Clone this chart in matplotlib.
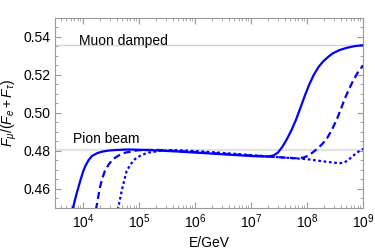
import numpy as np
import matplotlib.pyplot as plt

plt.rcParams['font.family'] = ['Liberation Sans', 'DejaVu Sans']
plt.rcParams['mathtext.fontset'] = 'custom'
plt.rcParams['mathtext.rm'] = 'Liberation Sans'
plt.rcParams['mathtext.it'] = 'Liberation Sans:italic'

# reference levels
muon_damped = 0.5357
pion_beam = 0.4807

# log10(E/GeV) and flavour ratio
lg_solid = np.array([3.82, 3.88, 3.95, 4.00, 4.04, 4.10, 4.16, 4.25, 4.33, 4.45, 4.57, 4.80,
                     5.20, 5.70, 6.21, 6.70, 7.10, 7.30, 7.40, 7.48, 7.56, 7.64, 7.72,
                     7.80, 7.88, 7.96, 8.04, 8.12, 8.20, 8.29, 8.38, 8.46, 8.58, 8.71,
                     8.85, 9.00])
f_solid = np.array([0.4500, 0.4570, 0.4642, 0.4690, 0.4720, 0.4752, 0.4774, 0.4788, 0.4796,
                    0.4802, 0.4805, 0.4808, 0.4805, 0.4797, 0.4788, 0.4779, 0.4772, 0.4771,
                    0.4776, 0.4792, 0.4822, 0.4862, 0.4908, 0.4962, 0.5025, 0.5090, 0.5150,
                    0.5200, 0.5240, 0.5272, 0.5296, 0.5314, 0.5331, 0.5343, 0.5352, 0.5357])

lg_dashed = np.array([4.23, 4.27, 4.30, 4.35, 4.39, 4.46, 4.54, 4.64, 4.75, 4.98, 5.30,
                      5.80, 6.30, 6.80, 7.20, 7.50, 7.80, 7.93, 8.02, 8.10, 8.18, 8.27,
                      8.36, 8.45, 8.54, 8.61, 8.68, 8.75, 8.82, 8.90, 9.00])
f_dashed = np.array([0.4490, 0.4555, 0.4607, 0.4660, 0.4695, 0.4730, 0.4758, 0.4777, 0.4791,
                     0.4804, 0.4806, 0.4798, 0.4789, 0.4780, 0.4773, 0.4767, 0.4762, 0.4765,
                     0.4775, 0.4792, 0.4811, 0.4836, 0.4868, 0.4915, 0.4972, 0.5025, 0.5079,
                     0.5125, 0.5168, 0.5210, 0.5250])

lg_dotted = np.array([4.62, 4.66, 4.69, 4.74, 4.78, 4.85, 4.93, 5.04, 5.16, 5.40, 5.60,
                      6.00, 6.40, 6.80, 7.20, 7.60, 8.00, 8.30, 8.50, 8.60, 8.67, 8.74,
                      8.82, 8.91, 9.00])
f_dotted = np.array([0.4490, 0.4545, 0.4589, 0.4650, 0.4695, 0.4730, 0.4758, 0.4778, 0.4791,
                     0.4802, 0.4805, 0.4800, 0.4792, 0.4783, 0.4774, 0.4765, 0.4757, 0.4745,
                     0.4738, 0.4736, 0.4740, 0.4753, 0.4774, 0.4795, 0.4812])

blue = '#0000ff'
frame = '#9a9a9a'

fig = plt.figure(figsize=(3.75, 2.5), dpi=100)
ax = fig.add_axes([0.1467, 0.168, 0.8213, 0.76])

ax.axhline(muon_damped, color='#d4d4d4', lw=1.0, zorder=1)
ax.axhline(pion_beam, color='#e2e2e2', lw=1.6, zorder=1)

ax.plot(10**lg_solid, f_solid, color=blue, lw=1.6, zorder=3)
ax.plot(10**lg_dashed, f_dashed, color=blue, lw=1.6, dashes=(3.2, 1.8), zorder=3)
ax.plot(10**lg_dotted, f_dotted, color=blue, lw=1.6, dashes=(1.2, 1.2), zorder=3)

ax.text(10**3.92, 0.5377, 'Muon damped', fontsize=10, va='center')
ax.text(10**3.82, 0.4862, 'Pion beam', fontsize=10, va='center')

ax.set_xscale('log')
ax.set_xlim(10**3.5, 1e9)
ax.set_ylim(0.45, 0.55)
ax.set_yticks([0.46, 0.48, 0.50, 0.52, 0.54])
ax.set_yticks(np.arange(0.45, 0.5501, 0.005), minor=True)
ax.set_xticks([1e4, 1e5, 1e6, 1e7, 1e8, 1e9])

ax.set_xlabel('E/GeV', fontsize=10, labelpad=3)
ax.set_ylabel(r'$F_\mu/(F_e+F_\tau)$', fontsize=10, labelpad=3)

for s in ax.spines.values():
    s.set_color(frame)
    s.set_linewidth(0.8)
ax.tick_params(which='both', direction='in', top=True, right=True, color=frame,
               labelsize=10, labelcolor='black')
ax.tick_params(which='major', length=4, width=0.8)
ax.tick_params(which='minor', length=2, width=0.6)

fig.savefig('out.png', dpi=100)
